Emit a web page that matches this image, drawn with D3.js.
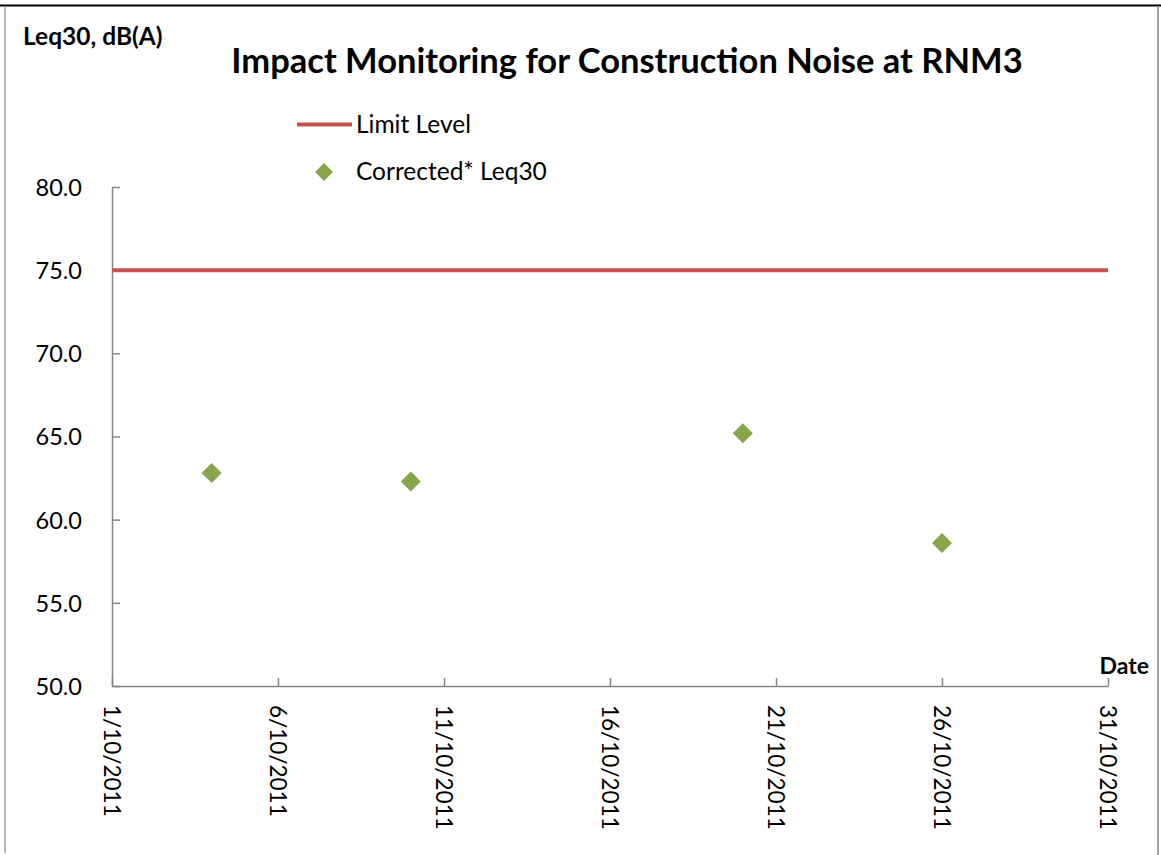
<!DOCTYPE html>
<html>
<head>
<meta charset="utf-8">
<script src="https://cdn.jsdelivr.net/npm/d3@7"></script>
<style>
  html, body { margin: 0; padding: 0; background: #fff; }
  svg { display: block; font-family: Lato, "Open Sans", sans-serif; }
</style>
</head>
<body>
<svg id="chart" width="1161" height="855"></svg>
<script>
// ---- data ----
const dates = ["2011-10-04", "2011-10-10", "2011-10-20", "2011-10-26"];
const leq30 = [62.8, 62.3, 65.2, 58.6];
const limitLevel = 75;
const yTicks = [50, 55, 60, 65, 70, 75, 80];
const xTickDates = ["2011-10-01", "2011-10-06", "2011-10-11", "2011-10-16", "2011-10-21", "2011-10-26", "2011-10-31"];
const xDomain = ["2011-10-01", "2011-10-31"];
const seriesNames = ["Limit Level", "Corrected* Leq30"];

const parse = d3.timeParse("%Y-%m-%d");
const svg = d3.select("#chart");

const margin = { left: 112, right: 1108, top: 187, bottom: 686 };
const x = d3.scaleTime().domain(xDomain.map(parse)).range([margin.left, margin.right]);
const y = d3.scaleLinear().domain([50, 80]).range([margin.bottom, margin.top]);

const axisColor = "#868686";
const red = "#c85050";
const green = "#87a54b";

// frame
svg.append("line").attr("x1", 0).attr("x2", 1161).attr("y1", 5.5).attr("y2", 5.5)
  .attr("stroke", "#000").attr("stroke-width", 2);
svg.append("line").attr("x1", 5).attr("x2", 5).attr("y1", 6).attr("y2", 853)
  .attr("stroke", "#a0a0a0").attr("stroke-width", 1.5);
svg.append("line").attr("x1", 1158).attr("x2", 1158).attr("y1", 6).attr("y2", 855)
  .attr("stroke", "#a0a0a0").attr("stroke-width", 2);

// y axis
const yAxis = svg.append("g").attr("transform", `translate(${margin.left},0)`)
  .call(d3.axisLeft(y).tickValues(yTicks).tickFormat(d3.format(".1f"))
    .tickSizeInner(-8).tickSizeOuter(0).tickPadding(30));
yAxis.select(".domain").attr("stroke", axisColor).attr("stroke-width", 1.5);
yAxis.selectAll(".tick line").attr("stroke", axisColor).attr("stroke-width", 1.5);
yAxis.selectAll(".tick text").attr("fill", "#000").style("font-size", "23.5px")
  .style("font-family", "Lato").attr("dy", "0.36em");

// x axis
const xAxis = svg.append("g").attr("transform", `translate(0,${margin.bottom})`)
  .call(d3.axisBottom(x).tickValues(xTickDates.map(parse)).tickFormat(d3.timeFormat("%-d/%m/%Y"))
    .tickSizeInner(-8).tickSizeOuter(0));
xAxis.select(".domain").attr("stroke", axisColor).attr("stroke-width", 1.5);
xAxis.selectAll(".tick line").attr("stroke", axisColor).attr("stroke-width", 1.5);
xAxis.selectAll(".tick text").attr("fill", "#000").style("font-size", "22.5px")
  .style("font-family", "Lato")
  .attr("transform", "rotate(90)").attr("x", 19).attr("y", 0).attr("dy", "0.36em")
  .style("text-anchor", "start");

// limit line
svg.append("line")
  .attr("x1", x.range()[0]).attr("x2", x.range()[1])
  .attr("y1", y(limitLevel)).attr("y2", y(limitLevel))
  .attr("stroke", red).attr("stroke-width", 4);

// points
const diamond = d3.symbol().type(d3.symbolSquare).size(200);
svg.append("g").selectAll("path").data(dates.map((d, i) => ({ d: parse(d), v: leq30[i] })))
  .join("path")
  .attr("d", diamond)
  .attr("transform", p => `translate(${x(p.d)},${y(p.v)}) rotate(45)`)
  .attr("fill", green);

// title & axis titles
svg.append("text").attr("x", 627).attr("y", 73).attr("text-anchor", "middle")
  .style("font-size", "34.5px").style("font-weight", "bold").text("Impact Monitoring for Construction Noise at RNM3");
svg.append("text").attr("x", 23).attr("y", 45)
  .style("font-size", "24.5px").style("font-weight", "bold").text("Leq30, dB(A)");
svg.append("text").attr("x", 1149).attr("y", 674).attr("text-anchor", "end")
  .style("font-size", "23px").style("font-weight", "bold").text("Date");

// legend
const leg = svg.append("g");
leg.append("line").attr("x1", 297).attr("x2", 352).attr("y1", 124.5).attr("y2", 124.5)
  .attr("stroke", red).attr("stroke-width", 4);
leg.append("text").attr("x", 356).attr("y", 133).style("font-size", "24.5px").text(seriesNames[0]);
leg.append("path").attr("d", d3.symbol().type(d3.symbolSquare).size(160))
  .attr("transform", "translate(324,172) rotate(45)").attr("fill", green);
leg.append("text").attr("x", 356).attr("y", 180).style("font-size", "24.5px").text(seriesNames[1]);
</script>
</body>
</html>
